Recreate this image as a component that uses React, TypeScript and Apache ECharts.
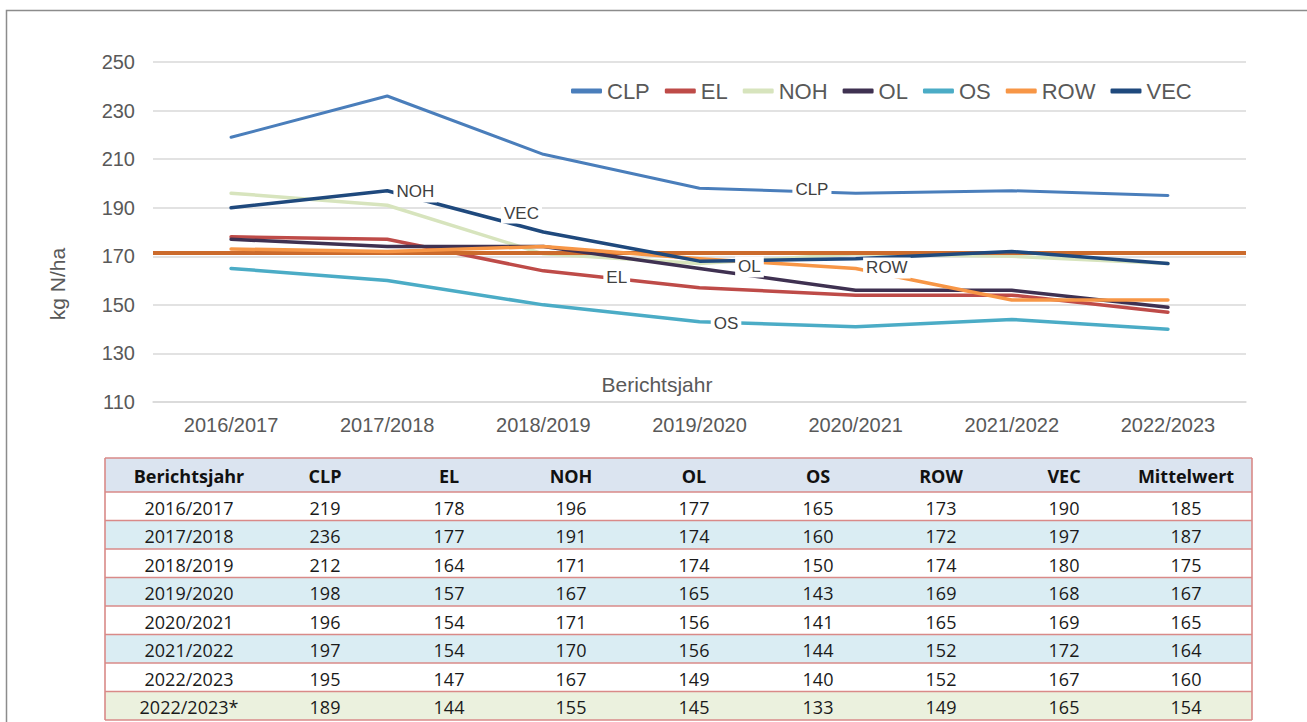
import React, { useEffect, useRef } from "react";
import * as echarts from "echarts";

// ---- data ----
const categories = ["2016/2017", "2017/2018", "2018/2019", "2019/2020", "2020/2021", "2021/2022", "2022/2023"];
const seriesNames = ["CLP", "EL", "NOH", "OL", "OS", "ROW", "VEC"];
const clp = [219, 236, 212, 198, 196, 197, 195];
const el = [178, 177, 164, 157, 154, 154, 147];
const noh = [196, 191, 171, 167, 171, 170, 167];
const ol = [177, 174, 174, 165, 156, 156, 149];
const os = [165, 160, 150, 143, 141, 144, 140];
const row = [173, 172, 174, 169, 165, 152, 152];
const vec = [190, 197, 180, 168, 169, 172, 167];
const mittelwert = [185, 187, 175, 167, 165, 164, 160];
const extraYear = "2022/2023*";
const extraValues = [189, 144, 155, 145, 133, 149, 165, 154];
const referenceLevel = 171.5;
const yTicks = { min: 110, max: 250, interval: 20 };
const tableHeaders = ["Berichtsjahr", "CLP", "EL", "NOH", "OL", "OS", "ROW", "VEC", "Mittelwert"];
const axisTitleX = "Berichtsjahr";
const axisTitleY = "kg N/ha";
// label anchors in data units: [category position, value]
const labelNames = ["NOH", "VEC", "CLP", "EL", "OL", "ROW", "OS"];
const labelPositions = [1.18, 1.86, 3.72, 2.47, 3.32, 4.2, 3.17];
const labelValues = [196.5, 187.8, 197.7, 161.1, 165.6, 165.2, 142.5];

// ---- styles ----
const colors = ["#4a7ebb", "#be4b48", "#d7e4bd", "#3f3151", "#4bacc6", "#f79646", "#1f497d"];
const refColor = "#cc6b2c";
const chartFont = "'Liberation Sans', Arial, sans-serif";
const tableFont = "'Open Sans', 'Noto Sans', sans-serif";
const colCenters = [189, 325, 449, 571, 694, 818, 941, 1064, 1186];
const tableLeft = 105;
const tableRight = 1252;
const headerTop = 458;
const headerH = 34;
const rowH = 28.5;
const borderColor = "#d98a88";

export default function App() {
  const ref = useRef<HTMLDivElement>(null);
  useEffect(() => {
    const chart = echarts.init(ref.current!, null, { renderer: "svg" });
    const seriesData = [clp, el, noh, ol, os, row, vec];
    chart.setOption({
      animation: false,
      backgroundColor: "#ffffff",
      grid: { left: 153, right: 61, top: 62, bottom: 320 },
      legend: {
        data: seriesNames,
        left: 566,
        top: 75,
        icon: "roundRect",
        itemWidth: 31,
        itemHeight: 5,
        itemGap: 15,
        textStyle: { fontSize: 22, color: "#595959", fontFamily: chartFont },
      },
      xAxis: {
        type: "category",
        data: categories,
        boundaryGap: true,
        axisLine: { show: true, lineStyle: { color: "#d9d9d9", width: 1.5 } },
        axisTick: { show: false },
        axisLabel: { fontSize: 20, color: "#595959", fontFamily: chartFont, margin: 13 },
        splitLine: { show: false },
      },
      yAxis: {
        type: "value",
        min: yTicks.min,
        max: yTicks.max,
        interval: yTicks.interval,
        axisLine: { show: false },
        axisTick: { show: false },
        axisLabel: { fontSize: 20, color: "#595959", fontFamily: chartFont, margin: 18 },
        splitLine: { lineStyle: { color: "#d9d9d9", width: 1.5 } },
      },
      series: [
        ...seriesNames.map((name, i) => ({
          name,
          type: "line",
          data: seriesData[i],
          symbol: "none",
          color: colors[i],
          lineStyle: { width: i === 0 ? 3 : 3.5, color: colors[i], cap: "round", join: "round" },
          z: 2 + i,
        })),
        {
          name: "Referenz",
          type: "line",
          data: [],
          z: 20,
          markLine: {
            silent: true,
            symbol: ["none", "none"],
            label: { show: false },
            lineStyle: { color: refColor, width: 4, type: "solid" },
            data: [{ yAxis: referenceLevel }],
          },
        },
      ],
    });

    const n = categories.length;
    const toPx = (pos: number, val: number) => {
      const i0 = Math.max(0, Math.min(n - 1, Math.floor(pos)));
      const i1 = Math.min(n - 1, i0 + 1);
      const t = pos - i0;
      const a = chart.convertToPixel({ gridIndex: 0 }, [i0, val]) as number[];
      const b = chart.convertToPixel({ gridIndex: 0 }, [i1, val]) as number[];
      return [a[0] + (b[0] - a[0]) * t, a[1]];
    };

    const graphics: any[] = [];
    // outer frame
    graphics.push({
      type: "rect",
      shape: { x: 6.5, y: 10.5, width: 1400, height: 800 },
      style: { fill: "none", stroke: "#8c8c8c", lineWidth: 1.5 },
      z: 0,
      silent: true,
    });
    // line labels
    labelNames.forEach((t, i) => {
      const p = toPx(labelPositions[i], labelValues[i]);
      graphics.push({
        type: "text",
        x: p[0],
        y: p[1],
        z: 30,
        style: {
          text: t,
          fill: "#404040",
          font: `17px ${chartFont}`,
          align: "center",
          verticalAlign: "middle",
          backgroundColor: "#ffffff",
          padding: [2, 3],
        },
      });
    });
    // axis titles
    graphics.push({
      type: "text",
      x: 657,
      y: 384,
      style: { text: axisTitleX, fill: "#595959", font: `21px ${chartFont}`, align: "center", verticalAlign: "middle" },
    });
    graphics.push({
      type: "text",
      x: 57,
      y: 284,
      rotation: Math.PI / 2,
      style: { text: axisTitleY, fill: "#595959", font: `21px ${chartFont}`, align: "center", verticalAlign: "middle" },
    });

    // table
    const rows: (string | number)[][] = categories.map((c, i) => [
      c, clp[i], el[i], noh[i], ol[i], os[i], row[i], vec[i], mittelwert[i],
    ]);
    rows.push([extraYear, ...extraValues]);
    const tableW = tableRight - tableLeft;
    graphics.push({
      type: "rect",
      shape: { x: tableLeft, y: headerTop, width: tableW, height: headerH },
      style: { fill: "#dbe4f0" },
      z: 1,
    });
    rows.forEach((r, ri) => {
      const top = headerTop + headerH + ri * rowH;
      const fill = ri === rows.length - 1 ? "#ebf1de" : ri % 2 === 1 ? "#daedf3" : "#ffffff";
      graphics.push({
        type: "rect",
        shape: { x: tableLeft, y: top, width: tableW, height: rowH },
        style: { fill },
        z: 1,
      });
      r.forEach((v, ci) => {
        graphics.push({
          type: "text",
          x: colCenters[ci],
          y: top + rowH / 2 + 1.5,
          z: 3,
          style: {
            text: String(v),
            fill: "#1a1a1a",
            font: `18px ${tableFont}`,
            align: "center",
            verticalAlign: "middle",
          },
        });
      });
    });
    tableHeaders.forEach((h, ci) => {
      graphics.push({
        type: "text",
        x: colCenters[ci],
        y: headerTop + headerH / 2 + 1,
        z: 3,
        style: {
          text: h,
          fill: "#111111",
          font: `bold 18px ${tableFont}`,
          align: "center",
          verticalAlign: "middle",
        },
      });
    });
    // borders
    const lineYs = [headerTop, headerTop + headerH];
    rows.forEach((_, ri) => lineYs.push(headerTop + headerH + (ri + 1) * rowH));
    lineYs.forEach((y) => {
      graphics.push({
        type: "line",
        shape: { x1: tableLeft, y1: y, x2: tableRight, y2: y },
        style: { stroke: borderColor, lineWidth: 1.6 },
        z: 4,
      });
    });
    const tableBottom = lineYs[lineYs.length - 1];
    [tableLeft, tableRight].forEach((x) => {
      graphics.push({
        type: "line",
        shape: { x1: x, y1: headerTop, x2: x, y2: tableBottom },
        style: { stroke: borderColor, lineWidth: 1.6 },
        z: 4,
      });
    });

    chart.setOption({ graphic: graphics });
    return () => chart.dispose();
  }, []);
  return (
    <div
      ref={ref}
      style={{ position: "fixed", left: 0, top: 0, width: 1307, height: 722, background: "#fff" }}
    />
  );
}
